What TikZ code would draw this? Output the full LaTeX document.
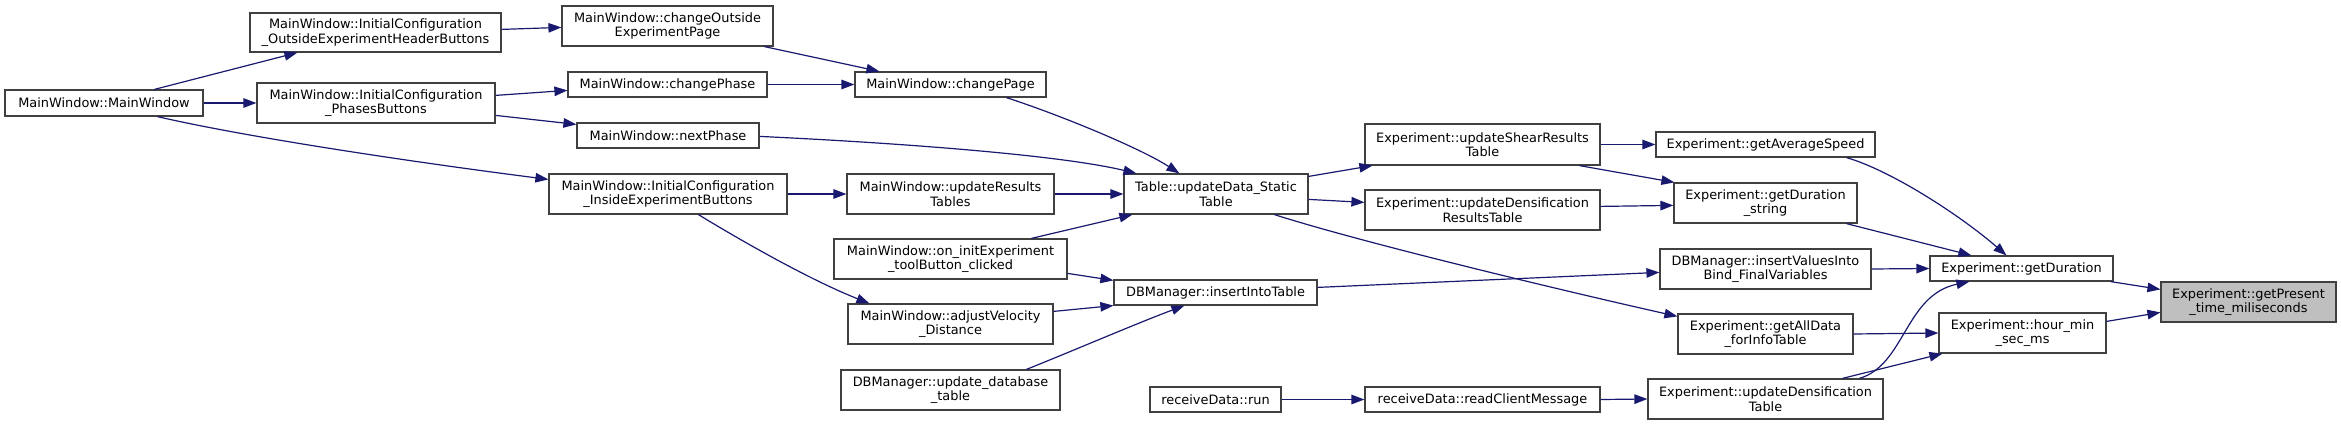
\documentclass[tikz,border=0pt]{standalone}
\usepackage{fontspec}
\setmainfont{DejaVu Sans}
\usetikzlibrary{arrows.meta}
\definecolor{edgec}{HTML}{191970}
\definecolor{boxc}{HTML}{404040}
\definecolor{hl}{HTML}{BFBFBF}
\newcommand\mybox[7][]{\node[box,#1,minimum width={(#4-#2)*1pt},minimum height={(#5-#3)*1pt}] (#6) at ({(#2+#4)/2},{(#3+#5)/2}) {#7};}
\begin{document}
\begin{tikzpicture}[x=1pt,y=-1pt,
  box/.style={draw=boxc, line width=1.2pt, fill=white, inner sep=0pt, align=center, font=\fontsize{12.9}{14.4}\selectfont},
  edge/.style={draw=edgec, line width=1.2pt, -{Triangle[length=13pt,width=9.5pt]}}]
\fill[white] (0,0) rectangle (2341,425);
\useasboundingbox (0,0) rectangle (2341,425);

\mybox{5}{90}{203}{116}{mw}{MainWindow::MainWindow}
\mybox{250}{13}{501}{52}{ich}{MainWindow::InitialConfiguration\\\_OutsideExperimentHeaderButtons}
\mybox{257}{83}{495}{123}{icp}{MainWindow::InitialConfiguration\\\_PhasesButtons}
\mybox{562}{6}{773}{46}{cop}{MainWindow::changeOutside\\ExperimentPage}
\mybox{568}{72}{767}{97}{cph}{MainWindow::changePhase}
\mybox{577}{123}{759}{148}{np}{MainWindow::nextPhase}
\mybox{549}{174}{787}{214}{ici}{MainWindow::InitialConfiguration\\\_InsideExperimentButtons}
\mybox{855}{72}{1046}{97}{cpg}{MainWindow::changePage}
\mybox{847}{174}{1054}{214}{urt}{MainWindow::updateResults\\Tables}
\mybox{834}{239}{1067}{279}{oie}{MainWindow::on\_initExperiment\\\_toolButton\_clicked}
\mybox{848}{304}{1053}{344}{avd}{MainWindow::adjustVelocity\\\_Distance}
\mybox{841}{370}{1060}{410}{udt}{DBManager::update\_database\\\_table}
\mybox{1124}{174}{1308}{214}{tud}{Table::updateData\_Static\\Table}
\mybox{1114}{280}{1317}{305}{iit}{DBManager::insertIntoTable}
\mybox{1150}{387}{1281}{412}{rdr}{receiveData::run}
\mybox{1365}{387}{1600}{412}{rcm}{receiveData::readClientMessage}
\mybox{1365}{124}{1600}{165}{usr}{Experiment::updateShearResults\\Table}
\mybox{1365}{190}{1600}{230}{udr}{Experiment::updateDensification\\ResultsTable}
\mybox{1656}{132}{1875}{157}{gas}{Experiment::getAverageSpeed}
\mybox{1674}{183}{1857}{223}{gds}{Experiment::getDuration\\\_string}
\mybox{1660}{249}{1871}{289}{ivb}{DBManager::insertValuesInto\\Bind\_FinalVariables}
\mybox{1678}{314}{1853}{354}{gad}{Experiment::getAllData\\\_forInfoTable}
\mybox{1648}{379}{1883}{419}{udn}{Experiment::updateDensification\\Table}
\mybox{1930}{256}{2113}{281}{gdu}{Experiment::getDuration}
\mybox{1939}{313}{2106}{353}{hms}{Experiment::hour\_min\\\_sec\_ms}
\mybox[fill=hl]{2161}{282}{2336}{322}{gpt}{Experiment::getPresent\\\_time\_miliseconds}

\draw[edge] ([shift={(150,0)}]mw.north west) -- ([shift={(48,0)}]ich.south west);
\draw[edge] (mw.east) -- (icp.west);
\draw[edge] ([shift={(153,0)}]mw.south west) .. controls (250,138) and (420,163) .. ([shift={(0,6)}]ici.north west);
\draw[edge] ([shift={(0,17)}]ich.north east) -- ([shift={(0,22)}]cop.north west);
\draw[edge] ([shift={(0,13)}]icp.north east) -- ([shift={(0,19)}]cph.north west);
\draw[edge] ([shift={(0,33)}]icp.north east) -- ([shift={(0,2)}]np.north west);
\draw[edge] ([shift={(203,0)}]cop.south west) -- ([shift={(25,0)}]cpg.north west);
\draw[edge] (cph.east) -- (cpg.west);
\draw[edge] ([shift={(152,0)}]cpg.south west) .. controls (1060,115) and (1140,148) .. ([shift={(56,0)}]tud.north west);
\draw[edge] ([shift={(0,14)}]np.north east) .. controls (900,143) and (1060,155) .. ([shift={(13,0)}]tud.north west);
\draw[edge] (ici.east) -- (urt.west);
\draw[edge] ([shift={(150,0)}]ici.south west) .. controls (740,240) and (810,280) .. ([shift={(22,0)}]avd.north west);
\draw[edge] (urt.east) -- (tud.west);
\draw[edge] ([shift={(198,0)}]oie.north west) -- ([shift={(9,0)}]tud.south west);
\draw[edge] ([shift={(0,35)}]oie.north east) -- ([shift={(0,1)}]iit.north west);
\draw[edge] ([shift={(0,8)}]avd.north east) -- (iit.south west);
\draw[edge] ([shift={(186,0)}]udt.north west) .. controls (1070,352) and (1140,322) .. ([shift={(71,0)}]iit.south west);
\draw[edge] ([shift={(0,3)}]tud.north east) -- ([shift={(8,0)}]usr.south west);
\draw[edge] ([shift={(0,26)}]tud.north east) -- ([shift={(0,13)}]udr.north west);
\draw[edge] ([shift={(151,0)}]tud.south west) .. controls (1360,242) and (1560,290) .. ([shift={(0,3)}]gad.north west);
\draw[edge] ([shift={(0,8)}]iit.north east) -- ([shift={(0,24)}]ivb.north west);
\draw[edge] (rdr.east) -- (rcm.west);
\draw[edge] (rcm.east) -- (udn.west);
\draw[edge] (usr.east) -- (gas.west);
\draw[edge] ([shift={(215,0)}]usr.south west) -- ([shift={(1,0)}]gds.north west);
\draw[edge] ([shift={(0,17)}]udr.north east) -- ([shift={(0,23)}]gds.north west);
\draw[edge] ([shift={(191,0)}]gas.south west) .. controls (1890,170) and (1960,215) .. ([shift={(77,0)}]gdu.north west);
\draw[edge] ([shift={(173,0)}]gds.south west) -- ([shift={(42,0)}]gdu.north west);
\draw[edge] (ivb.east) -- (gdu.west);
\draw[edge] ([shift={(212,0)}]udn.north west) .. controls (1905,365) and (1905,295) .. ([shift={(40,0)}]gdu.south west);
\draw[edge] (gad.east) -- (hms.west);
\draw[edge] ([shift={(195,0)}]udn.north west) -- ([shift={(4,0)}]hms.south west);
\draw[edge] ([shift={(-3,0)}]gdu.south east) -- ([shift={(0,8)}]gpt.north west);
\draw[edge] ([shift={(0,9)}]hms.north east) -- ([shift={(0,31)}]gpt.north west);
\end{tikzpicture}
\end{document}
